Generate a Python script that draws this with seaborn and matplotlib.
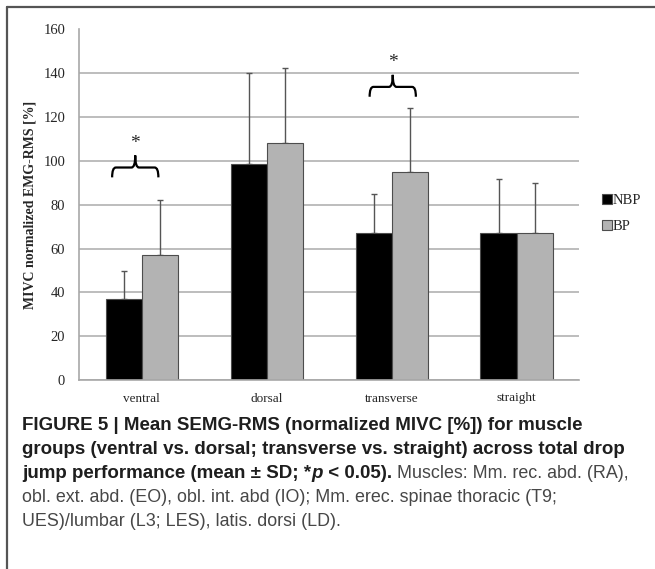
import numpy as np
import pandas as pd
import seaborn as sns
import matplotlib.pyplot as plt
from matplotlib.lines import Line2D
from matplotlib.path import Path
from matplotlib.patches import PathPatch

# values (mean and upper SD)
groups = ["ventral", "dorsal", "transverse", "straight"]
conditions = ["NBP", "BP"]
nbp_mean = [36.8, 98.4, 67.0, 67.0]
bp_mean = [57.2, 108.0, 94.8, 67.0]
nbp_sd = [12.8, 41.6, 18.0, 24.8]
bp_sd = [24.8, 34.6, 29.5, 22.8]
y_ticks = [0, 20, 40, 60, 80, 100, 120, 140, 160]

# significance braces: group, x offset of brace centre, height of the brace bar
sig_groups = ["ventral", "transverse"]
sig_offsets = [-0.05, 0.01]
sig_levels = [97, 133.8]

df = pd.DataFrame({
    "group": groups * 2,
    "condition": ["NBP"] * 4 + ["BP"] * 4,
    "value": nbp_mean + bp_mean,
})

sns.set_style("white")
plt.rcParams["font.family"] = ["Liberation Serif", "DejaVu Serif"]

fig = plt.figure(figsize=(6.55, 5.69), dpi=100)
ax = fig.add_axes([79 / 655, 1 - 380 / 569, 500 / 655, 350.5 / 569])
ax.set_axisbelow(True)

sns.barplot(data=df, x="group", y="value", hue="condition", order=groups,
            hue_order=conditions, palette={"NBP": "black", "BP": "#b3b3b3"},
            width=0.576, errorbar=None, edgecolor="#4d4d4d", linewidth=0.8,
            ax=ax)

# upper error bars only
for cont, sds in zip(ax.containers, [nbp_sd, bp_sd]):
    xs = [p.get_x() + p.get_width() / 2 for p in cont]
    ys = [p.get_height() for p in cont]
    ax.errorbar(xs, ys, yerr=[np.zeros(len(sds)), sds], fmt="none",
                ecolor="#555555", elinewidth=1, capsize=2.5, capthick=1,
                zorder=0.8)

ax.set_ylim(0, 160)
ax.set_yticks(y_ticks)
ax.set_xlim(-0.5, 3.5)
ax.yaxis.grid(True, color="#b8b8b8", linewidth=1.3)
ax.xaxis.grid(False)
for s in ["top", "right"]:
    ax.spines[s].set_visible(False)
for s in ["left", "bottom"]:
    ax.spines[s].set_color("#a8a8a8")
    ax.spines[s].set_linewidth(1.2)
ax.tick_params(axis="y", length=6, color="#a8a8a8", width=1.2, labelsize=10.5, pad=4)
ax.tick_params(axis="x", length=0, labelsize=9.5, pad=9)
ax.set_xticks(np.arange(-0.5, 4, 1), minor=True)
ax.tick_params(axis="x", which="minor", length=4, color="#a8a8a8", width=1.2)
ax.set_xlabel("")
ax.set_ylabel("MIVC normalized EMG-RMS [%]", fontweight="bold", fontsize=10)
ax.yaxis.set_label_coords((37 - 79) / 500, 0.5)

h, l = ax.get_legend_handles_labels()
ax.legend(h, l, loc="center left", bbox_to_anchor=(1.02, 0.474), frameon=False,
          handlelength=0.65, handleheight=0.65, handletextpad=0.1,
          labelspacing=0.9, fontsize=10.5)

# curly braces with asterisk
for g, off, lev in zip(sig_groups, sig_offsets, sig_levels):
    xc = groups.index(g) + off
    hw = 0.185
    r = 0.03
    verts = [(xc - hw, lev - 4.5), (xc - hw, lev), (xc - hw + r, lev),
             (xc - r, lev), (xc, lev), (xc, lev + 5.5),
             (xc, lev), (xc + r, lev),
             (xc + hw - r, lev), (xc + hw, lev), (xc + hw, lev - 4.5)]
    codes = [Path.MOVETO, Path.CURVE3, Path.CURVE3,
             Path.LINETO, Path.CURVE3, Path.CURVE3,
             Path.CURVE3, Path.CURVE3,
             Path.LINETO, Path.CURVE3, Path.CURVE3]
    ax.add_patch(PathPatch(Path(verts, codes), facecolor="none",
                           edgecolor="black", linewidth=1.6, zorder=4))
    ax.text(xc, lev + 11, "*", ha="center", va="center", fontsize=14, zorder=4)

# frame lines of the figure panel
fig.add_artist(Line2D([7 / 655, 1], [1 - 6.5 / 569] * 2, transform=fig.transFigure,
                      color="#555555", linewidth=1.6))
fig.add_artist(Line2D([7 / 655] * 2, [0, 1 - 6.5 / 569], transform=fig.transFigure,
                      color="#555555", linewidth=1.6))

# caption, drawn run by run so bold/italic/regular can share a line
cap_font = ["Liberation Sans", "DejaVu Sans"]
caption = [
    [("FIGURE 5 | Mean SEMG-RMS (normalized MIVC [%]) for muscle", "bold", "normal")],
    [("groups (ventral vs. dorsal; transverse vs. straight) across total drop", "bold", "normal")],
    [("jump performance (mean \u00b1 SD; *", "bold", "normal"), ("p", "bold", "italic"),
     (" < 0.05).", "bold", "normal"),
     (" Muscles: Mm. rec. abd. (RA),", "normal", "normal")],
    [("obl. ext. abd. (EO), obl. int. abd (IO); Mm. erec. spinae thoracic (T9;", "normal", "normal")],
    [("UES)/lumbar (L3; LES), latis. dorsi (LD).", "normal", "normal")],
]
line_y = [426, 450, 474, 498, 521]

renderer = fig.canvas.get_renderer()
for runs, yy in zip(caption, line_y):
    x = 22 / 655
    for txt, w, st in runs:
        t = fig.text(x, 1 - yy / 569, txt, family=cap_font,
                     fontsize=13.5 if w == "bold" else 12.9,
                     fontweight=w, fontstyle=st, va="center", ha="left",
                     color="#1e1e1e" if w == "bold" else "#474747")
        bb = t.get_window_extent(renderer)
        x = bb.x1 / fig.bbox.width

fig.savefig("out.png", dpi=100)
